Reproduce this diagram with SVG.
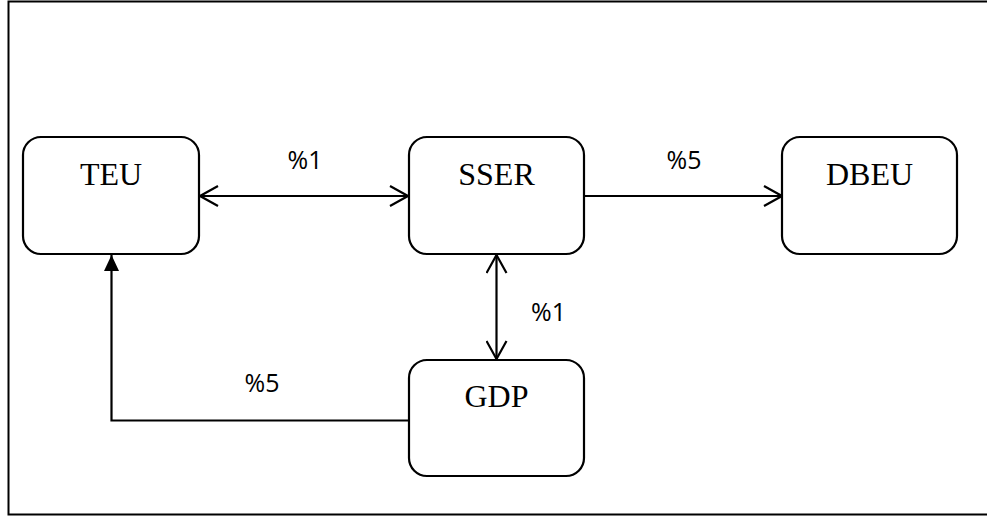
<svg xmlns="http://www.w3.org/2000/svg" width="987" height="517" viewBox="0 0 987 517">
<defs>
<style>
.node rect{fill:#fff;stroke:#000;stroke-width:2.2}
.node text{font-family:"Liberation Serif","Times New Roman",serif;font-size:32px;fill:#000;text-anchor:middle}
.conn line,.conn polyline{fill:none;stroke:#000;stroke-width:2.2}
.lbl{font-family:"Open Sans","Noto Sans",sans-serif;font-size:25px;fill:#000;text-anchor:middle}
</style>
<marker id="open" viewBox="0 0 20 22" refX="19" refY="11" markerWidth="20" markerHeight="22" markerUnits="userSpaceOnUse" orient="auto-start-reverse">
<polyline points="1,1 19,11 1,21" fill="none" stroke="#000" stroke-width="2.2"/>
</marker>
<marker id="solid" viewBox="0 0 16 16" refX="16" refY="8" markerWidth="16" markerHeight="16" markerUnits="userSpaceOnUse" orient="auto">
<polygon points="0,0.5 16,8 0,15.5" fill="#000"/>
</marker>
</defs>
<rect width="987" height="517" fill="#fff"/>
<g id="frame" fill="none" stroke="#000" stroke-width="2">
<polyline points="987,1.5 8.5,1.5 8.5,514.5 987,514.5"/>
</g>
<g class="conn" id="connectors">
<line x1="200" y1="196" x2="408" y2="196" marker-start="url(#open)" marker-end="url(#open)"/>
<line x1="584" y1="196" x2="782" y2="196" marker-end="url(#open)"/>
<line x1="496.5" y1="255" x2="496.5" y2="359" marker-start="url(#open)" marker-end="url(#open)"/>
<polyline points="409,420.5 111.5,420.5 111.5,255" marker-end="url(#solid)"/>
<text class="lbl" x="305" y="168.5">%1</text>
<text class="lbl" x="684" y="168.5">%5</text>
<text class="lbl" x="548.5" y="321">%1</text>
<text class="lbl" x="262" y="392">%5</text>
</g>
<g class="node" id="TEU">
<rect x="23" y="137" width="176" height="117" rx="18"/>
<text x="111" y="184.5">TEU</text>
</g>
<g class="node" id="SSER">
<rect x="409" y="137" width="175" height="117" rx="18"/>
<text x="496.5" y="184.5">SSER</text>
</g>
<g class="node" id="DBEU">
<rect x="782" y="137" width="175" height="117" rx="18"/>
<text x="869.5" y="184.5">DBEU</text>
</g>
<g class="node" id="GDP">
<rect x="409" y="360" width="175" height="116" rx="18"/>
<text x="496.5" y="406.5">GDP</text>
</g>
</svg>
